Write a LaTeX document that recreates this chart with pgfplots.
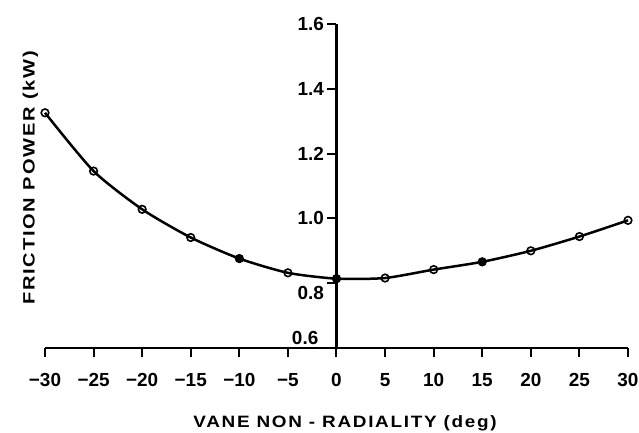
\documentclass[border=0pt]{standalone}
\usepackage{fontspec}
\setmainfont{Liberation Sans}
\newfontfamily\lblfont[LetterSpace=9]{Liberation Sans}
\usepackage{graphicx}
\usepackage{pgfplots}
\pgfplotsset{compat=1.18}
\begin{document}
\begin{tikzpicture}
\path[use as bounding box] (-45bp,-85bp) rectangle (594bp,348bp);
\begin{axis}[
  scale only axis, width=583bp, height=324bp,
  at={(0,0)}, anchor=south west,
  xmin=-30, xmax=30, ymin=0.6, ymax=1.6,
  axis x line=bottom, axis y line=center,
  axis line style={-, line width=2.8bp, black},
  tick align=outside,
  major tick length=9bp,
  tick style={line width=2bp, black},
  xtick={-30,-25,...,30},
  xticklabels={−30,−25,−20,−15,−10,−5,0,5,10,15,20,25,30},
  xticklabel style={yshift=-13bp},
  ytick={0.8,1.0,1.2,1.4,1.6},
  yticklabels={\raisebox{-10bp}[\height][\depth]{0.8},1.0,1.2,1.4,1.6},
  ticklabel style={font=\fontsize{19}{19}\selectfont\bfseries},
  every axis y label/.style={at={(axis description cs:-0.0249,0.525)}, rotate=90, anchor=center},
  every axis x label/.style={at={(axis description cs:0.5146,-0.2315)}, anchor=center},
  xlabel={\scalebox{1.15}[1]{\fontsize{16.5}{17}\lblfont\bfseries VANE NON - RADIALITY (deg)}},
  ylabel={\scalebox{1.22}[1]{\fontsize{16.5}{17}\lblfont\bfseries FRICTION POWER (kW)}},
  clip=false,
]
\addplot[black, line width=2.5bp, smooth, tension=0.4, mark=o, mark size=3.8bp, mark options={line width=1.6bp, fill=white, solid}]
coordinates {(-30,1.326)(-25,1.146)(-20,1.028)(-15,0.941)(-10,0.876)(-5,0.832)(0,0.814)(5,0.816)(10,0.842)(15,0.866)(20,0.900)(25,0.944)(30,0.994)};
\addplot[black, only marks, mark=*, mark size=3.8bp]
coordinates {(-10,0.876)(0,0.814)(15,0.866)};
\node[anchor=east, font=\fontsize{19}{19}\selectfont\bfseries, inner sep=0pt] at (axis cs:0,0.6) [xshift=-18bp, yshift=10.5bp] {0.6};
\end{axis}
\end{tikzpicture}
\end{document}
